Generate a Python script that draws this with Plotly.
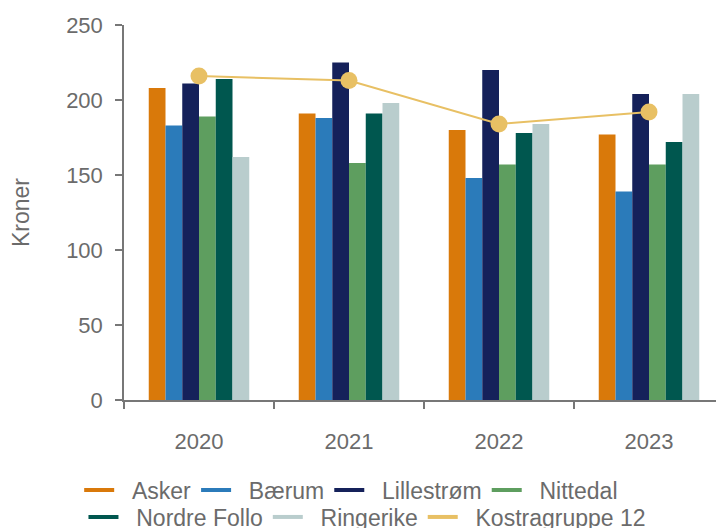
import plotly.graph_objects as go

years = ["2020", "2021", "2022", "2023"]
asker = [208, 191, 180, 177]
baerum = [183, 188, 148, 139]
lillestrom = [211, 225, 220, 204]
nittedal = [189, 158, 157, 157]
nordre_follo = [214, 191, 178, 172]
ringerike = [162, 198, 184, 204]
kostra12 = [216, 213, 184, 192]

series = [
    ("Asker", asker, "#d9790a", "legend"),
    ("Bærum", baerum, "#2b7bba", "legend"),
    ("Lillestrøm", lillestrom, "#15215a", "legend"),
    ("Nittedal", nittedal, "#5e9e5f", "legend"),
    ("Nordre Follo", nordre_follo, "#00574f", "legend2"),
    ("Ringerike", ringerike, "#b9cdcd", "legend2"),
]
kostra_color = "#e8c064"
font_family = "Liberation Sans, Arial, sans-serif"
grey = "#6b6b6b"
pad = "\u00a0\u00a0"

fig = go.Figure()
for name, vals, col, lg in series:
    fig.add_trace(go.Bar(x=years, y=vals, name=name, marker_color=col,
                         marker_line_width=0, showlegend=False))
fig.add_trace(go.Scatter(x=years, y=kostra12, name="Kostragruppe 12",
                         mode="lines+markers",
                         line=dict(color=kostra_color, width=2),
                         marker=dict(color=kostra_color, size=17),
                         showlegend=False))
# legend entries drawn as short thick lines
for name, vals, col, lg in series:
    fig.add_trace(go.Scatter(x=[None], y=[None], mode="lines", name=pad + name,
                             line=dict(color=col, width=4), legend=lg))
fig.add_trace(go.Scatter(x=[None], y=[None], mode="lines", name=pad + "Kostragruppe 12",
                         line=dict(color=kostra_color, width=4), legend="legend2"))

legend_common = dict(orientation="h", xref="container", yref="container",
                     xanchor="center", yanchor="middle",
                     font=dict(family=font_family, size=23, color=grey),
                     bgcolor="rgba(0,0,0,0)", itemwidth=30)

fig.update_layout(
    width=724, height=528,
    margin=dict(l=116, r=8, t=17, b=136, autoexpand=False),
    paper_bgcolor="white", plot_bgcolor="white",
    font=dict(family=font_family, size=22, color=grey),
    barmode="group", bargap=0.33, bargroupgap=0,
    legend=dict(x=0.474, y=0.087, **legend_common),
    legend2=dict(x=0.4965, y=0.036, **legend_common),
    xaxis=dict(showline=True, linecolor="#777777", linewidth=1.5,
               ticks="outside", tickson="boundaries", ticklen=7,
               tickcolor="#777777", tickwidth=1.5, ticklabelstandoff=21,
               showgrid=False, tickfont=dict(size=22, color=grey)),
    yaxis=dict(range=[0, 250], dtick=50, showline=True, linecolor="#777777",
               linewidth=1.5, ticks="outside", ticklen=7, tickcolor="#777777",
               tickwidth=1.5, showgrid=False, zeroline=False,
               ticklabelstandoff=8,
               tickfont=dict(size=22, color=grey),
               title=dict(text="Kroner", font=dict(size=23, color=grey), standoff=30)),
)

fig.write_html("out.html")
